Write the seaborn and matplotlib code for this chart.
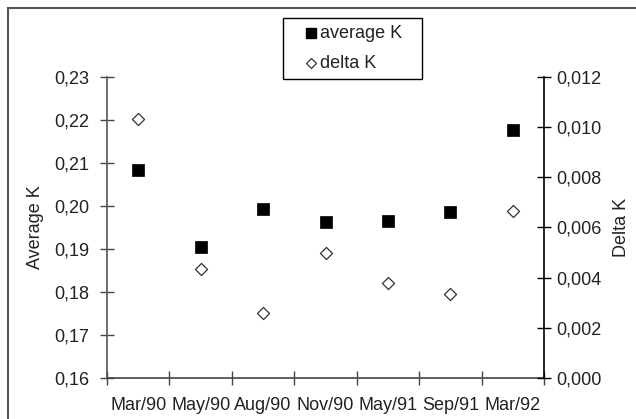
import matplotlib
matplotlib.use("Agg")
import matplotlib.pyplot as plt
import seaborn as sns
import pandas as pd
from matplotlib.patches import Rectangle
from matplotlib.lines import Line2D
from matplotlib.ticker import FixedLocator, FuncFormatter

# Survey dates and measured values
dates = ["Mar/90", "May/90", "Aug/90", "Nov/90", "May/91", "Sep/91", "Mar/92"]
average_k = [0.2084, 0.1904, 0.1994, 0.1962, 0.1965, 0.1985, 0.2177]
delta_k = [0.01033, 0.00434, 0.00258, 0.00498, 0.00380, 0.00335, 0.00666]

left_ticks = [0.16, 0.17, 0.18, 0.19, 0.20, 0.21, 0.22, 0.23]
right_ticks = [0.000, 0.002, 0.004, 0.006, 0.008, 0.010, 0.012]
series_names = ["average K", "delta K"]

sns.set_style("white")
plt.rcParams["font.family"] = ["Liberation Sans", "DejaVu Sans"]
FS = 13
TXT = "#222222"
W, H = 636, 419

df = pd.DataFrame({"pos": range(len(dates)), "date": dates,
                   "average_k": average_k, "delta_k": delta_k})

fig = plt.figure(figsize=(W / 100, H / 100), dpi=100)
ax = fig.add_axes([107 / W, 1 - 378 / H, (544 - 107) / W, (378 - 77) / H])
ax2 = ax.twinx()

sns.scatterplot(data=df, x="pos", y="average_k", ax=ax, marker="s", s=85,
                color="black", edgecolor="black", linewidth=0.5, zorder=3)
sns.scatterplot(data=df, x="pos", y="delta_k", ax=ax2, marker="D", s=38,
                facecolor="white", edgecolor="#333333", linewidth=0.9, zorder=3)

# x axis: tick marks on category boundaries, labels centred on categories
n = len(dates)
ax.set_xlim(-0.5, n - 0.5)
ax.xaxis.set_major_locator(FixedLocator([i - 0.5 for i in range(n + 1)]))
ax.xaxis.set_major_formatter(FuncFormatter(lambda v, p: ""))
ax.xaxis.set_minor_locator(FixedLocator(list(range(n))))
ax.set_xticklabels(dates, minor=True)
ax.tick_params(axis="x", which="major", direction="inout", length=10, width=1,
               color="#444444", bottom=True)
ax.tick_params(axis="x", which="minor", length=0, pad=14, labelsize=FS,
               labelcolor=TXT)
ax.set_xlabel("")

comma = lambda fmt: FuncFormatter(lambda v, p: format(v, fmt).replace(".", ","))

ax.set_ylim(0.16, 0.23)
ax.yaxis.set_major_locator(FixedLocator(left_ticks))
ax.yaxis.set_major_formatter(comma(".2f"))
ax.tick_params(axis="y", direction="inout", length=10, width=1, color="#444444",
               left=True, pad=8, labelsize=FS, labelcolor=TXT)
ax.set_ylabel("Average K", fontsize=FS, color=TXT, labelpad=7)

ax2.set_ylim(0.0, 0.012)
ax2.yaxis.set_major_locator(FixedLocator(right_ticks))
ax2.yaxis.set_major_formatter(comma(".3f"))
ax2.tick_params(axis="y", direction="inout", length=10, width=1, color="black",
                right=True, pad=4, labelsize=FS, labelcolor=TXT)
ax2.set_ylabel("Delta K", fontsize=FS, color=TXT, labelpad=8)

for a in (ax, ax2):
    a.spines["top"].set_visible(False)
    a.grid(False)
ax.spines["right"].set_visible(False)
ax2.spines["left"].set_visible(False)
ax2.spines["bottom"].set_visible(False)
ax.spines["left"].set_color("#555555")
ax.spines["bottom"].set_color("#444444")
ax2.spines["right"].set_color("black")
for s in ("left", "bottom"):
    ax.spines[s].set_linewidth(1.2)
ax2.spines["right"].set_linewidth(1.2)

# legend box above the plot, placed in figure pixels
def fx(px):
    return px / W

def fy(py):
    return 1 - py / H

fig.add_artist(Rectangle((fx(283), fy(79)), fx(422) - fx(283), fy(18) - fy(79),
                         transform=fig.transFigure, facecolor="white",
                         edgecolor="black", linewidth=1.0))
fig.add_artist(Line2D([fx(311)], [fy(33)], transform=fig.transFigure,
                      marker="s", markersize=7.5, linestyle="none",
                      markerfacecolor="black", markeredgecolor="black"))
fig.add_artist(Line2D([fx(311)], [fy(63)], transform=fig.transFigure,
                      marker="D", markersize=5.0, linestyle="none",
                      markerfacecolor="white", markeredgecolor="#333333",
                      markeredgewidth=0.9))
fig.text(fx(320), fy(33), series_names[0], fontsize=FS, color=TXT,
         ha="left", va="center")
fig.text(fx(320), fy(63), series_names[1], fontsize=FS, color=TXT,
         ha="left", va="center")

# outer chart border
fig.add_artist(Rectangle((fx(8), -0.05), 1.05, fy(8) + 0.05,
                         transform=fig.transFigure, fill=False,
                         edgecolor="#555555", linewidth=1.5))

fig.savefig("out.png", dpi=100)
